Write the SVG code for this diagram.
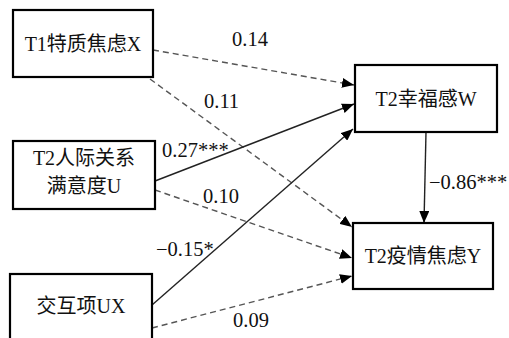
<svg xmlns="http://www.w3.org/2000/svg" width="509" height="338" viewBox="0 0 509 338">
<style>
.box{fill:#fff;stroke:#000;stroke-width:2.2}
.t{font-family:"Liberation Serif","Noto Sans CJK SC",serif;font-size:20px;fill:#111;text-anchor:middle}
.l{font-family:"Liberation Serif","Noto Sans CJK SC",serif;font-size:20.5px;fill:#111}
.s{stroke:#222;stroke-width:1.4;fill:none}
.d{stroke:#555;stroke-width:1.4;fill:none;stroke-dasharray:6,4}
</style>
<defs>
<marker id="a" viewBox="0 0 12 10" refX="12" refY="5" markerWidth="12" markerHeight="10" markerUnits="userSpaceOnUse" orient="auto">
<path d="M0,0 L12,5 L0,10 Z" fill="#000"/>
</marker>
</defs>
<g id="connectors">
<line class="d" x1="153" y1="50" x2="354" y2="85" marker-end="url(#a)"/>
<line class="d" x1="150" y1="79" x2="352" y2="227" marker-end="url(#a)"/>
<line class="s" x1="155" y1="181" x2="354" y2="104" marker-end="url(#a)"/>
<line class="d" x1="155" y1="190" x2="352" y2="258" marker-end="url(#a)"/>
<line class="s" x1="152" y1="305" x2="353" y2="129" marker-end="url(#a)"/>
<line class="d" x1="152" y1="328" x2="352" y2="276" marker-end="url(#a)"/>
<line class="s" x1="426" y1="132" x2="424" y2="223" marker-end="url(#a)"/>
</g>
<g id="labels">
<text class="l" x="232" y="46">0.14</text>
<text class="l" x="204" y="108">0.11</text>
<text class="l" x="162" y="157">0.27***</text>
<text class="l" x="203" y="203">0.10</text>
<text class="l" x="156" y="256">−0.15*</text>
<text class="l" x="233" y="327">0.09</text>
<text class="l" x="429" y="189">−0.86***</text>
</g>
<g id="nodeX">
<rect class="box" x="13" y="10" width="140" height="67"/>
<text class="t" x="83" y="51">T1特质焦虑X</text>
</g>
<g id="nodeU">
<rect class="box" x="13" y="141" width="142" height="68"/>
<text class="t" x="84" y="165">T2人际关系</text>
<text class="t" x="84" y="193">满意度U</text>
</g>
<g id="nodeUX">
<rect class="box" x="10" y="274" width="142" height="80"/>
<text class="t" x="81" y="313">交互项UX</text>
</g>
<g id="nodeW">
<rect class="box" x="355" y="65" width="142" height="67"/>
<text class="t" x="426" y="106">T2幸福感W</text>
</g>
<g id="nodeY">
<rect class="box" x="353" y="223" width="140" height="66"/>
<text class="t" x="423" y="263">T2疫情焦虑Y</text>
</g>
</svg>
